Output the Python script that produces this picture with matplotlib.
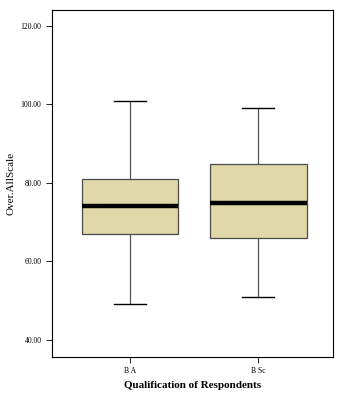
import matplotlib
matplotlib.use("Agg")
import matplotlib.pyplot as plt

categories = ["B A", "B Sc"]
whislo = [49.1, 50.9]
q1 = [66.9, 66.0]
med = [74.0, 74.9]
q3 = [80.9, 84.8]
whishi = [100.9, 99.0]
yticks = [40, 60, 80, 100, 120]

plt.rcParams['font.family'] = ['Liberation Serif', 'DejaVu Serif']

fig = plt.figure(figsize=(3.46, 3.96), dpi=100)
ax = fig.add_axes([0.150, 0.0985, 0.812, 0.8765])

stats = [dict(label=c, whislo=a, q1=b, med=m, q3=d, whishi=e, fliers=[])
         for c, a, b, m, d, e in zip(categories, whislo, q1, med, q3, whishi)]
ax.bxp(stats, positions=[1, 2], widths=0.75, patch_artist=True, showfliers=False,
       boxprops=dict(facecolor='#e0d8a8', edgecolor='#4a4a4a', linewidth=0.9),
       medianprops=dict(color='black', linewidth=3.2),
       whiskerprops=dict(color='#555555', linewidth=0.9),
       capprops=dict(color='black', linewidth=1.0), capwidths=0.25)

ax.set_xlim(0.393, 2.58)
ax.set_ylim(35.7, 124)
ax.set_yticks(yticks)
ax.set_yticklabels([f"{v:.2f}" for v in yticks], fontsize=5.5)
ax.set_xticks([1, 2])
ax.set_xticklabels(categories, fontsize=5.5)
ax.tick_params(length=4, width=0.6, direction='out')
for s in ax.spines.values():
    s.set_linewidth(0.8)
ax.set_ylabel("Over.AllScale", fontsize=8)
ax.set_xlabel("Qualification of Respondents", fontsize=8, fontweight='bold')
fig.savefig("out.png", dpi=100)
